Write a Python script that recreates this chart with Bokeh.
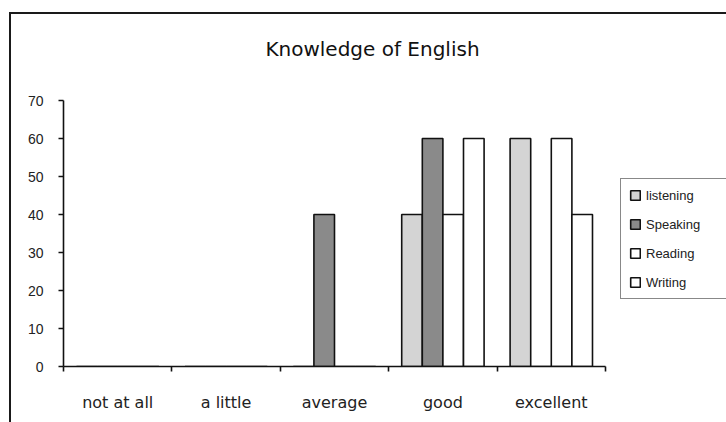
from bokeh.plotting import figure
from bokeh.models import (Range1d, LinearAxis, FixedTicker, Legend, LegendItem,
                          ColumnDataSource, Label)
from bokeh.transform import dodge
from bokeh.embed import file_html
from bokeh.resources import INLINE

# ---- data ----
categories = ["not at all", "a little", "average", "good", "excellent"]
series = ["listening", "Speaking", "Reading", "Writing"]
listening = [0, 0, 0, 40, 60]
speaking = [0, 0, 40, 60, 0]
reading = [0, 0, 0, 40, 60]
writing = [0, 0, 0, 60, 40]
y_ticks = [0, 10, 20, 30, 40, 50, 60, 70]
y_max = 70
title_text = "Knowledge of English"

colors = ["#d4d4d4", "#8a8a8a", "#ffffff", "#ffffff"]
offsets = [-0.285, -0.095, 0.095, 0.285]
bar_w = 0.19

n = len(categories)
centers = [i + 0.5 for i in range(n)]
bounds = list(range(n + 1))

# layout (pixels): plot area 63..605 x 100..366, frame extended to the canvas edge/top
W, H = 726, 422
left, bottom = 63, 56
axis_px_w, axis_px_h = 542, 266
frame_w, frame_h = W - left, H - bottom
x_end = n * frame_w / axis_px_w
y_end = y_max * frame_h / axis_px_h

src = ColumnDataSource(dict(xc=centers, listening=listening, speaking=speaking,
                            reading=reading, writing=writing))
cols = ["listening", "speaking", "reading", "writing"]

p = figure(width=W, height=H, title=None,
           x_range=Range1d(0, x_end), y_range=Range1d(0, y_end),
           output_backend="svg", toolbar_location=None,
           x_axis_location=None, y_axis_location=None,
           min_border_left=left, min_border_right=0, min_border_top=0, min_border_bottom=bottom,
           styles={"box-shadow": "inset 9px 12px 0 0 #ffffff, inset 11px 14px 0 0 #1a1a1a"})
p.outline_line_color = None
p.grid.visible = False
p.background_fill_color = None
p.border_fill_color = None

renderers = []
for col, off, c in zip(cols, offsets, colors):
    r = p.vbar(x=dodge("xc", off), top=col, width=bar_w, source=src,
               fill_color=c, line_color="#111111", line_width=1.6)
    renderers.append(r)

# y axis
yax = LinearAxis(ticker=FixedTicker(ticks=y_ticks), bounds=(0, y_max))
yax.major_tick_out = 5
yax.major_tick_in = 0
yax.minor_tick_line_color = None
yax.major_label_standoff = 15
yax.major_label_text_font = "Liberation Sans"
yax.major_label_text_font_size = "14px"
yax.major_label_text_color = "#222222"
yax.axis_line_color = "#111111"
yax.axis_line_width = 1.6
yax.major_tick_line_color = "#111111"
yax.major_tick_line_width = 1.6
p.add_layout(yax, "left")

# x axis: labels at category centres, ticks at category boundaries
xax = LinearAxis(ticker=FixedTicker(ticks=centers, minor_ticks=bounds), bounds=(0, n))
xax.major_label_overrides = {c: lab for c, lab in zip(centers, categories)}
xax.major_tick_line_color = None
xax.major_tick_out = 0
xax.major_tick_in = 0
xax.minor_tick_out = 5
xax.minor_tick_in = 0
xax.minor_tick_line_color = "#111111"
xax.minor_tick_line_width = 1.6
xax.axis_line_color = "#111111"
xax.axis_line_width = 1.6
xax.major_label_standoff = 21
xax.major_label_text_font = "DejaVu Sans"
xax.major_label_text_font_size = "16px"
xax.major_label_text_color = "#222222"
p.add_layout(xax, "below")

# title
title = Label(x=372 - left, y=frame_h - 48, x_units="screen", y_units="screen",
              text=title_text, text_align="center", text_baseline="alphabetic",
              text_font="DejaVu Sans", text_font_size="20px", text_color="#111111")
p.add_layout(title)

legend = Legend(items=[LegendItem(label=s, renderers=[r]) for s, r in zip(series, renderers)],
                location=(620 - left, 67))
legend.border_line_color = "#111111"
legend.border_line_width = 1.6
legend.background_fill_color = "white"
legend.padding = 8
legend.spacing = 13
legend.margin = 0
legend.label_height = 16
legend.glyph_height = 12
legend.glyph_width = 12
legend.label_standoff = 5
legend.label_width = 90
legend.label_text_font = "Liberation Sans"
legend.label_text_font_size = "13px"
legend.label_text_color = "#222222"
p.add_layout(legend, "center")

open("out.html", "w").write(file_html(p, INLINE))
